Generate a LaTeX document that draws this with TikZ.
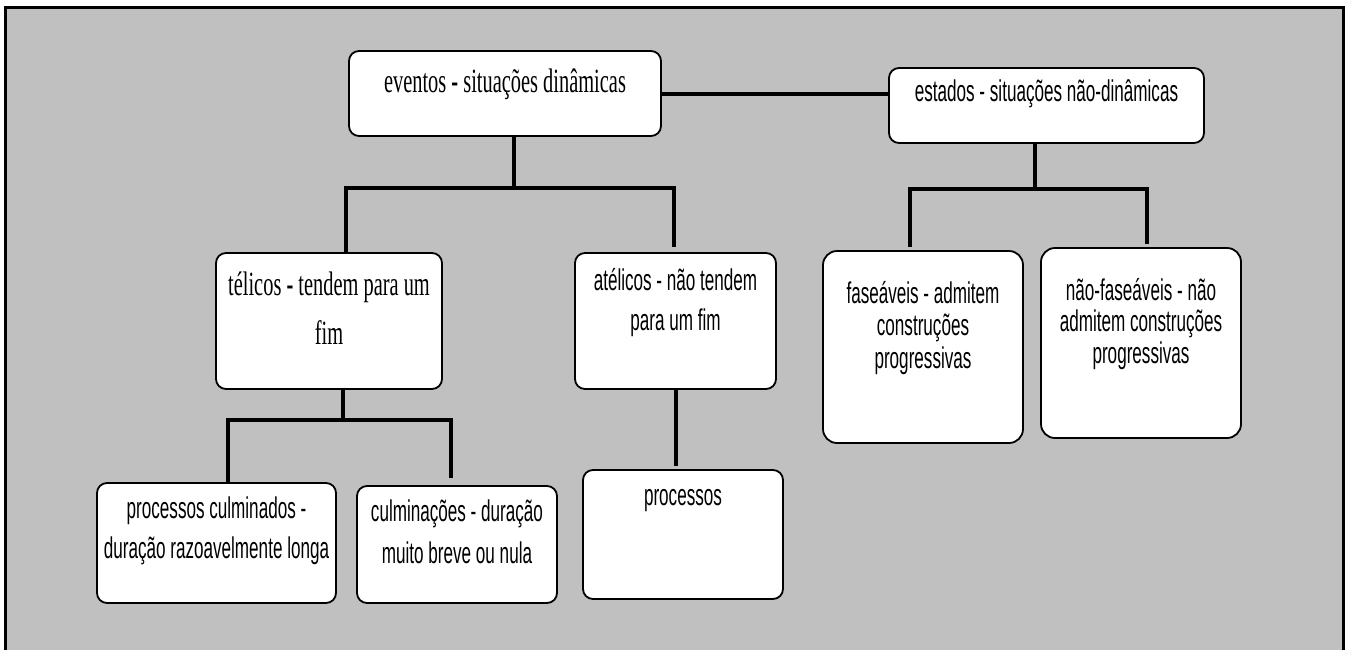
\documentclass[tikz,border=0pt]{standalone}
\usepackage{fontspec}
\usepackage{tikz}
\usetikzlibrary{positioning, calc}
\newfontfamily\serifnarrow[FakeStretch=0.6]{Liberation Serif}
\newfontfamily\sansnarrow[FakeStretch=0.57]{Liberation Sans}
\definecolor{fundoCinza}{HTML}{C0C0C0}

\begin{document}
\begin{tikzpicture}[x=1pt, y=-1pt,
  caixa/.style={draw, line width=1.8pt, fill=white, rounded corners=10pt, inner sep=0pt},
  ligacao/.style={line width=4pt},
  txtserif/.style={font=\serifnarrow\fontsize{34}{#1}\selectfont, align=center, inner sep=0pt},
  txtsans/.style={font=\sansnarrow\fontsize{30}{#1}\selectfont, align=center, inner sep=0pt}]
% moldura
\useasboundingbox (0,0) rectangle (1350,649);
\clip (0,0) rectangle (1350,649);
\fill[fundoCinza] (5,7) rectangle (1343,660);
\draw[line width=3pt] (5,660) -- (5,7) -- (1343,7) -- (1343,660);

% caixas
\node[caixa, minimum width=312, minimum height=85] (eventos) at (505,93.5) {};
\node[caixa, minimum width=315, minimum height=75] (estados) at (1046.5,105.5) {};
\node[caixa, minimum width=226, minimum height=136] (telicos) at (329,321) {};
\node[caixa, minimum width=201, minimum height=136] (atelicos) at (675.5,321) {};
\node[caixa, minimum width=200, minimum height=192, rounded corners=14pt] (faseaveis) at (923,347) {};
\node[caixa, minimum width=200, minimum height=190, rounded corners=14pt] (naofaseaveis) at (1141,343) {};
\node[caixa, minimum width=239, minimum height=120] (proccul) at (216.5,543) {};
\node[caixa, minimum width=200, minimum height=117] (culminacoes) at (457,544.5) {};
\node[caixa, minimum width=200, minimum height=129] (processos) at (683,534.5) {};

% textos
\node[txtserif=38, below=15.5pt of eventos.north] (eventos-txt) {\strut eventos \textbf{-} situações dinâmicas};
\node[txtsans=31, below=12.4pt of estados.north] (estados-txt) {\strut estados - situações não-dinâmicas};
\node[txtserif=49, below=8.8pt of telicos.north] (telicos-txt) {\strut télicos \textbf{-} tendem para um\\\strut fim};
\node[txtsans=40, below=10.1pt of atelicos.north] (atelicos-txt) {\strut atélicos - não tendem\\\strut para um fim};
\node[txtsans=32.5, below=30.3pt of faseaveis.north] (faseaveis-txt) {\strut faseáveis - admitem\\\strut construções\\\strut progressivas};
\node[txtsans=31.5, below=31pt of naofaseaveis.north] (naofaseaveis-txt) {\strut não-faseáveis - não\\\strut admitem construções\\\strut progressivas};
\node[txtsans=40, below=8.1pt of proccul.north] (proccul-txt) {\strut processos culminados -\\\strut duração razoavelmente longa};
\node[txtsans=42, below=6.7pt of culminacoes.north] (culminacoes-txt) {\strut culminações - duração\\\strut muito breve ou nula};
\node[txtsans=31, below=14.4pt of processos.north] (processos-txt) {\strut processos};

% ligacoes
\draw[ligacao] (eventos.east) -- (eventos.east -| estados.west);
\draw[ligacao] ([xshift=9]eventos.south) -- ++(0,51) -| ([xshift=17]telicos.north);
\draw[ligacao] ([xshift=9]eventos.south) -- ++(0,51) -| ([xshift=-1.5,yshift=5]atelicos.north);
\draw[ligacao] ([xshift=-11.5]estados.south) -- ++(0,45) -| ([xshift=-13.5,yshift=3]faseaveis.north);
\draw[ligacao] ([xshift=-11.5]estados.south) -- ++(0,45) -| ([xshift=6,yshift=3]naofaseaveis.north);
\draw[ligacao] ([xshift=14]telicos.south) -- ++(0,30) -| ([xshift=11.5]proccul.north);
\draw[ligacao] ([xshift=14]telicos.south) -- ++(0,30) -| ([xshift=-6,yshift=7]culminacoes.north);
\draw[ligacao] ([xshift=0.5]atelicos.south) -- ($(atelicos.south |- processos.north)+(0.5,-3)$);
\end{tikzpicture}
\end{document}
